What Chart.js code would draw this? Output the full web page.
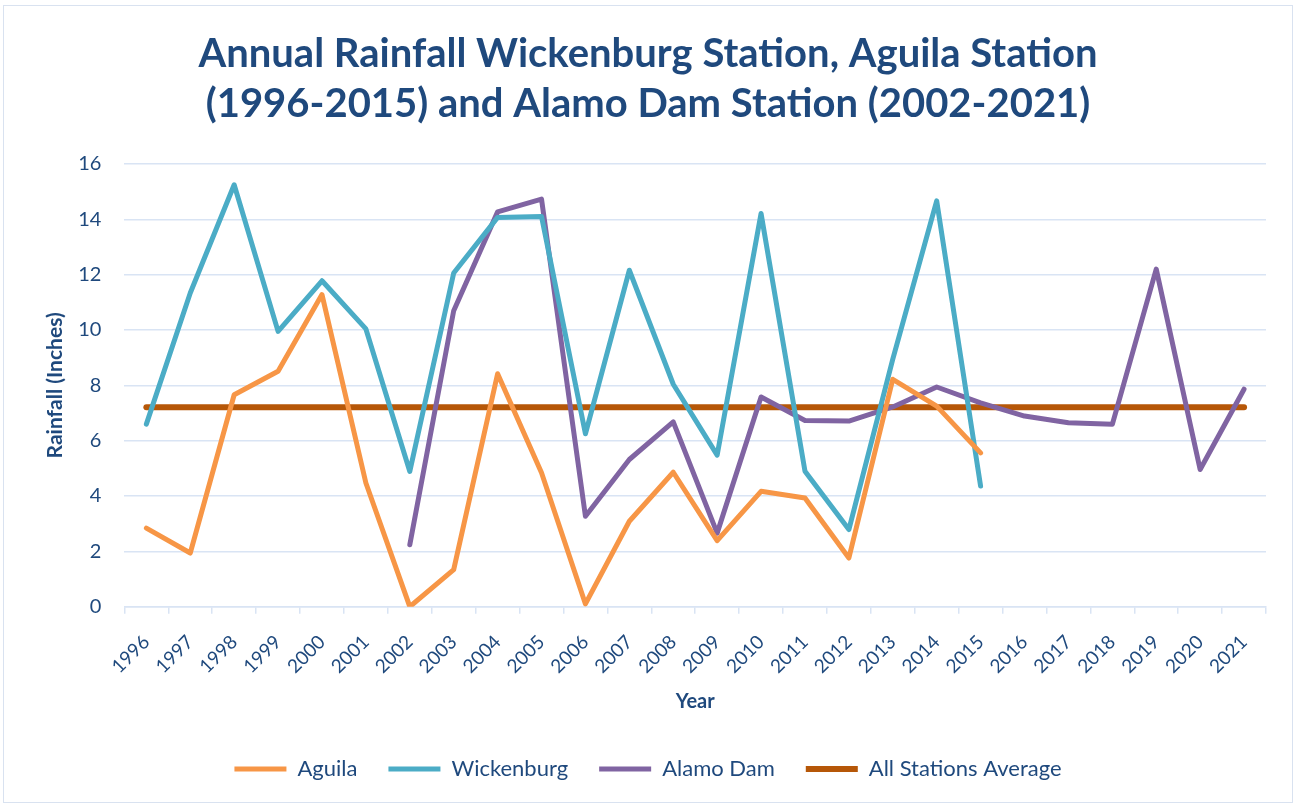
<!DOCTYPE html>
<html>
<head>
<meta charset="utf-8">
<script src="https://cdn.jsdelivr.net/npm/chart.js@4/dist/chart.umd.min.js"></script>
<style>
  html, body { margin: 0; padding: 0; background: #ffffff; }
  #wrap { position: absolute; left: 3px; top: 5px; width: 1290px; height: 798px; border: 1px solid #D9E2F0; box-sizing: border-box; }
  #c { position: absolute; left: 0; top: 0; }
</style>
</head>
<body>
<div id="wrap"></div>
<canvas id="c" width="1296" height="806"></canvas>
<script>
const years = ['1996','1997','1998','1999','2000','2001','2002','2003','2004','2005','2006','2007','2008','2009','2010','2011','2012','2013','2014','2015','2016','2017','2018','2019','2020','2021'];
const aguila = [2.84, 1.94, 7.66, 8.51, 11.28, 4.47, 0.0, 1.34, 8.42, 4.84, 0.1, 3.09, 4.86, 2.39, 4.17, 3.93, 1.76, 8.22, 7.25, 5.56, null, null, null, null, null, null];
const wickenburg = [6.6, 11.34, 15.25, 9.95, 11.78, 10.04, 4.89, 12.06, 14.07, 14.1, 6.25, 12.16, 8.04, 5.48, 14.21, 4.9, 2.79, 8.95, 14.67, 4.36, null, null, null, null, null, null];
const alamoDam = [null, null, null, null, null, null, 2.24, 10.7, 14.27, 14.73, 3.27, 5.32, 6.68, 2.66, 7.58, 6.73, 6.71, 7.22, 7.94, 7.37, 6.89, 6.65, 6.59, 12.2, 4.96, 7.86];
const allStationsAverage = [7.21, 7.21, 7.21, 7.21, 7.21, 7.21, 7.21, 7.21, 7.21, 7.21, 7.21, 7.21, 7.21, 7.21, 7.21, 7.21, 7.21, 7.21, 7.21, 7.21, 7.21, 7.21, 7.21, 7.21, 7.21, 7.21];
const yTicks = [0, 2, 4, 6, 8, 10, 12, 14, 16];

const navy = '#1F497D';
const gridCol = '#D9E4F4';
const fontFam = 'Lato, "Open Sans", sans-serif';

function ds(label, data, color, width) {
  return {
    label: label, data: data, borderColor: color, backgroundColor: color,
    borderWidth: width, pointRadius: 0, pointHoverRadius: 0, tension: 0,
    borderCapStyle: 'round', borderJoinStyle: 'round', spanGaps: false, fill: false
  };
}

new Chart(document.getElementById('c'), {
  type: 'line',
  data: {
    labels: years,
    datasets: [
      ds('Aguila', aguila, '#F79646', 5),
      ds('Wickenburg', wickenburg, '#4BACC6', 5),
      ds('Alamo Dam', alamoDam, '#8064A2', 5),
      ds('All Stations Average', allStationsAverage, '#B65708', 6)
    ]
  },
  options: {
    responsive: false,
    animation: false,
    devicePixelRatio: 1,
    layout: { padding: { left: 30, right: 30, top: 0, bottom: 16 } },
    plugins: {
      tooltip: { enabled: false },
      title: {
        display: true,
        text: ['Annual Rainfall Wickenburg Station, Aguila Station', '(1996-2015) and Alamo Dam Station (2002-2021)'],
        color: navy,
        font: { family: fontFam, size: 40, weight: 'bold', lineHeight: 1.25 },
        padding: { top: 29, bottom: 35 }
      },
      legend: {
        position: 'bottom',
        labels: {
          usePointStyle: true,
          pointStyle: 'line',
          pointStyleWidth: 52,
          color: navy,
          font: { family: fontFam, size: 22 },
          padding: 31
        }
      }
    },
    scales: {
      x: {
        type: 'category',
        offset: true,
        grid: { display: true, drawOnChartArea: false, drawTicks: true, tickLength: 7, offset: true, color: gridCol, lineWidth: 1.5 },
        border: { display: true, color: gridCol, width: 1.5 },
        ticks: { color: navy, font: { family: fontFam, size: 19 }, maxRotation: 45, minRotation: 45, autoSkip: false, padding: 17 },
        title: { display: true, text: 'Year', color: navy, font: { family: fontFam, size: 20, weight: 'bold' }, padding: { top: -5, bottom: 13 } }
      },
      y: {
        min: 0, max: 16,
        afterBuildTicks: (axis) => { axis.ticks = yTicks.map(v => ({ value: v })); },
        grid: { display: true, drawTicks: false, color: gridCol, lineWidth: 1.5 },
        border: { display: false },
        ticks: { color: navy, font: { family: fontFam, size: 20 }, padding: 23 },
        title: { display: true, text: 'Rainfall (Inches)', color: navy, font: { family: fontFam, size: 21, weight: 'bold' }, padding: { top: 13, bottom: -13 } }
      }
    }
  }
});
</script>
</body>
</html>
